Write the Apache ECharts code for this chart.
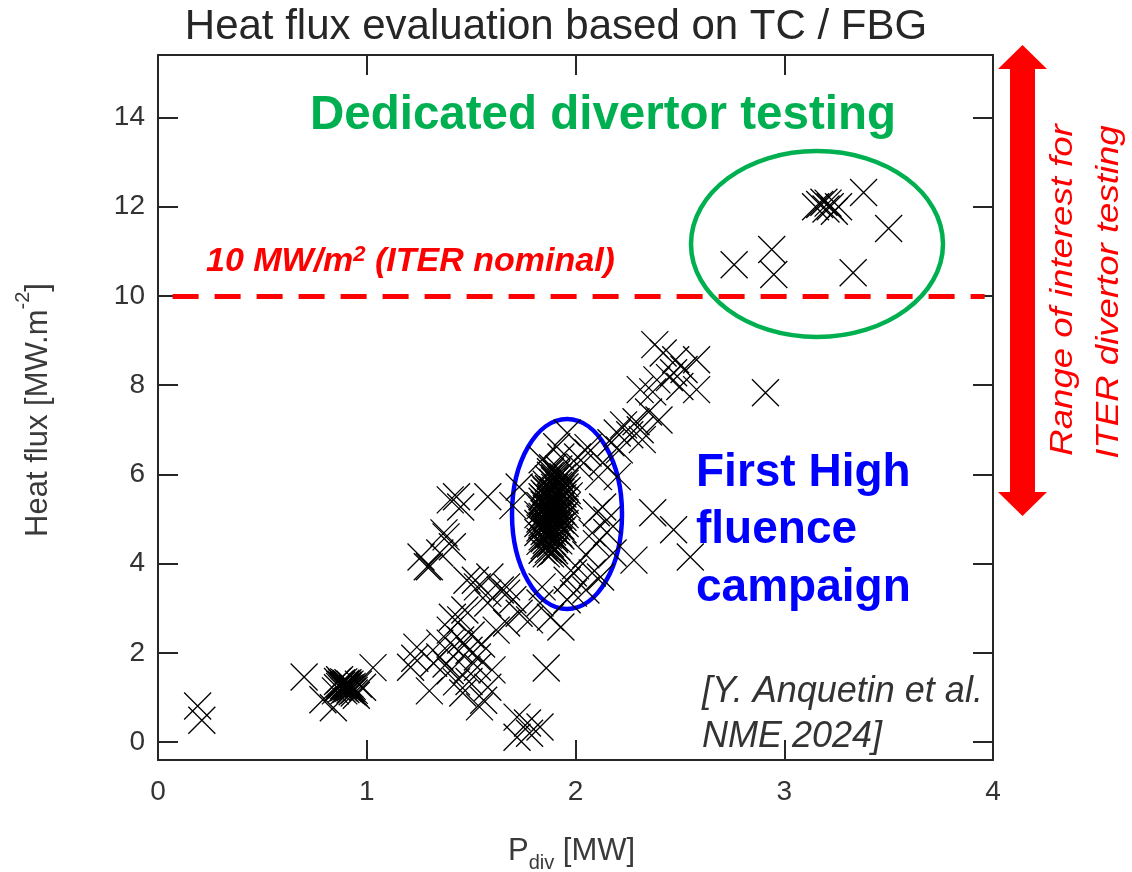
<!DOCTYPE html>
<html>
<head>
<meta charset="utf-8">
<script src="https://cdn.jsdelivr.net/npm/echarts@6/dist/echarts.min.js"></script>
<style>
html,body{margin:0;padding:0;background:#fff;}
#chart{width:1132px;height:872px;}
</style>
</head>
<body>
<div id="chart"></div>
<script>
// ---------- data ----------
const xTickValues = [0, 1, 2, 3, 4];
const yTickValues = [0, 2, 4, 6, 8, 10, 12, 14];

const lowPoints = [[0.19,0.81],[0.21,0.49]];

const clusterNearOne = [[0.70,1.46],[0.79,0.95],[0.84,0.77],[0.86,1.36],[0.87,1.30],[0.88,1.33],
  [0.89,1.27],[0.90,1.24],[0.91,1.20],[0.92,1.17],[0.93,1.13],[0.94,1.10],[0.88,1.20],[0.90,1.32],
  [0.91,1.28],[0.87,1.40],[0.93,1.25],[0.95,1.05],[0.85,1.15],[0.96,1.30],[0.98,1.23],[1.03,1.67],
  [0.89,1.22],[0.90,1.29],[0.91,1.24],[0.92,1.22],[0.89,1.35],[0.88,1.28],[0.92,1.30],[0.93,1.20],
  [0.94,1.16],[0.90,1.18],[0.87,1.25],[0.86,1.22],[0.91,1.33],[0.89,1.15]];

const rampLow = [[1.21,1.68],[1.23,1.88],[1.24,2.13],[1.30,1.15],[1.32,1.77],[1.35,1.91],[1.35,2.22],
  [1.40,2.22],[1.40,2.51],[1.41,2.80],[1.45,2.29],[1.45,2.74],[1.47,2.96],[1.48,1.62],[1.49,1.36],
  [1.49,2.06],[1.53,1.91],[1.53,1.68],[1.54,0.79],[1.56,0.94],[1.58,1.23],[1.60,1.62],[1.58,3.12],
  [1.62,2.51],[1.67,2.67],[1.67,3.34],[1.73,2.89],[1.78,2.74],[1.83,3.12],[1.88,2.80],[1.93,2.58],
  [1.86,1.66],[1.72,0.56],[1.77,0.43],[1.83,0.34],[1.78,0.20],[1.72,0.11],[1.52,3.63],[1.29,3.93],
  [1.40,1.60],[1.44,2.05],[1.38,1.75],[1.50,2.40],[1.55,2.20],[1.43,1.35],[1.46,1.10]];

const rampMid = [[1.26,4.15],[1.30,3.93],[1.35,4.24],[1.38,4.60],[1.41,4.38],[1.37,4.69],[1.40,5.43],
  [1.43,5.50],[1.45,5.27],[1.58,5.50],[1.48,3.63],[1.53,3.48],[1.59,3.70],[1.67,3.48],[1.58,3.34],
  [1.64,3.41],[1.70,3.19],[1.70,5.30],[1.73,5.72],[1.84,3.48],[1.96,3.19],[2.05,3.41],[2.12,3.70],
  [1.99,3.79],[1.96,3.63],[2.08,3.79],[1.99,3.34],[2.28,4.08],[2.18,4.24],[2.08,4.69],[2.00,3.95],
  [2.05,4.20],[2.10,4.45],[2.15,4.70],[2.55,4.15],[2.47,4.76]];

const campaignBlob = [[1.88,5.98],[1.91,6.02],[1.94,5.95],
  [1.86,5.78],[1.89,5.82],[1.92,5.76],[1.95,5.80],
  [1.85,5.58],[1.88,5.62],[1.90,5.55],[1.93,5.60],[1.96,5.64],
  [1.84,5.40],[1.87,5.36],[1.89,5.44],[1.92,5.38],[1.95,5.42],
  [1.84,5.20],[1.86,5.24],[1.88,5.18],[1.91,5.22],[1.94,5.16],
  [1.83,5.00],[1.86,5.04],[1.88,4.97],[1.90,5.02],[1.93,4.98],
  [1.83,4.80],[1.85,4.84],[1.88,4.78],[1.91,4.82],[1.94,4.76],
  [1.84,4.60],[1.87,4.64],[1.90,4.58],[1.93,4.62],
  [1.85,4.40],[1.88,4.44],[1.91,4.38],
  [1.86,4.22],[1.89,4.26],
  [1.89,6.15],[1.92,6.12],
  [1.87,5.90],[1.90,5.92],[1.93,5.88],[1.96,5.90],
  [1.85,5.70],[1.87,5.68],[1.90,5.71],[1.93,5.69],[1.95,5.72],
  [1.84,5.50],[1.86,5.52],[1.88,5.49],[1.91,5.51],[1.94,5.48],[1.97,5.52],
  [1.83,5.30],[1.85,5.32],[1.87,5.29],[1.90,5.31],[1.93,5.28],[1.96,5.30],
  [1.82,5.10],[1.85,5.12],[1.87,5.09],[1.89,5.11],[1.92,5.08],[1.95,5.10],
  [1.82,4.90],[1.84,4.92],[1.87,4.89],[1.89,4.91],[1.92,4.88],[1.95,4.90],
  [1.82,4.70],[1.85,4.72],[1.87,4.69],[1.89,4.71],[1.92,4.68],
  [1.83,4.50],[1.86,4.52],[1.89,4.49],[1.92,4.51],
  [1.84,4.30],[1.87,4.32],[1.90,4.29],
  [1.88,6.06],[1.90,5.86],[1.92,5.95],[1.86,5.64],[1.89,5.66],[1.92,5.63],[1.94,5.56],
  [1.85,5.45],[1.88,5.40],[1.90,5.37],[1.93,5.45],[1.86,5.15],[1.88,5.26],[1.90,5.14],
  [1.93,5.21],[1.84,5.06],[1.86,4.96],[1.89,5.05],[1.91,4.95],[1.94,5.04],[1.84,4.86],
  [1.86,4.76],[1.88,4.86],[1.90,4.75],[1.93,4.84],[1.85,4.56],[1.88,4.66],[1.90,4.54],
  [1.86,4.46],[1.89,4.36],[1.85,4.35],[1.88,4.22]];

const rampHigh = [[1.84,6.33],[1.91,6.62],[1.96,6.93],[2.06,6.48],[2.02,6.17],[1.93,6.39],[2.01,6.39],
  [2.06,6.60],[2.11,5.95],[2.13,6.26],[2.17,6.71],[2.20,5.95],[2.20,6.93],[2.21,6.55],[2.23,7.11],
  [2.26,6.89],[2.29,7.18],[2.31,7.00],[2.32,6.78],[2.35,7.40],[2.40,7.22],[2.10,5.14],[2.13,5.27],
  [2.15,4.98],[2.37,5.14],[2.31,7.90],[2.37,7.85],[2.39,8.12],[2.45,8.17],[2.47,8.28],[2.50,7.97],
  [2.52,8.35],[2.58,7.90],[2.58,8.57],[2.48,8.57],[2.42,8.72],[2.38,8.91],[2.91,7.83]];

const dedicatedPoints = [[2.76,10.70],[2.94,11.04],[2.95,10.48],[3.33,10.52],[3.50,11.51],[3.38,12.32],
  [3.15,12.00],[3.17,12.05],[3.19,12.10],[3.20,11.95],[3.22,12.00],[3.24,11.90],[3.26,12.00],[3.21,12.08]];

const iterNominal = 10;
const nominalLineX = [0.07, 3.96];

// ---------- chart ----------
const allPoints = [].concat(lowPoints, clusterNearOne, rampLow, rampMid, campaignBlob, rampHigh, dedicatedPoints);

const chart = echarts.init(document.getElementById('chart'), null, {renderer: 'canvas'});
const FONT = '"Liberation Sans", Arial, sans-serif';
const frameColor = '#262626';

const commonAxis = {
  axisLine: {show: true, onZero: false, lineStyle: {color: frameColor, width: 2}},
  splitLine: {show: false}
};

const option = {
  animation: false,
  backgroundColor: '#fff',
  grid: {left: 158, right: 139, top: 55, bottom: 112, containLabel: false},
  xAxis: [
    Object.assign({}, commonAxis, {
      type: 'value', position: 'bottom', min: 0, max: 4, interval: 1,
      axisTick: {show: true, inside: true, length: 20, lineStyle: {color: frameColor, width: 2}},
      axisLabel: {show: true, margin: 18, fontSize: 28, color: '#333', fontFamily: FONT}
    }),
    Object.assign({}, commonAxis, {
      type: 'value', position: 'top', min: 0, max: 4, interval: 1,
      axisTick: {show: true, inside: true, length: 20, lineStyle: {color: frameColor, width: 2}},
      axisLabel: {show: false}
    })
  ],
  yAxis: [
    Object.assign({}, commonAxis, {
      type: 'value', position: 'left', min: -0.4, max: 15.4,
      axisTick: {show: true, inside: true, length: 20, customValues: yTickValues,
        lineStyle: {color: frameColor, width: 2}},
      axisLabel: {show: true, margin: 13, fontSize: 28, color: '#333', customValues: yTickValues,
        fontFamily: FONT}
    }),
    Object.assign({}, commonAxis, {
      type: 'value', position: 'right', min: -0.4, max: 15.4,
      axisTick: {show: true, inside: true, length: 20, customValues: yTickValues,
        lineStyle: {color: frameColor, width: 2}},
      axisLabel: {show: false}
    })
  ],
  series: [{
    type: 'scatter',
    xAxisIndex: 0, yAxisIndex: 0,
    data: allPoints,
    symbol: 'path://M0 0L10 10M10 0L0 10',
    symbolSize: 27,
    itemStyle: {color: 'rgba(0,0,0,0)', borderColor: '#000', borderWidth: 1.3, opacity: 1},
    emphasis: {disabled: true},
    silent: true,
    markLine: {
      silent: true, symbol: 'none', animation: false,
      label: {show: false},
      lineStyle: {color: '#ff0000', width: 5, type: [26, 16]},
      data: [[{coord: [nominalLineX[0], iterNominal]}, {coord: [nominalLineX[1], iterNominal]}]]
    }
  }],
  graphic: [
    // title
    {type: 'text', x: 556, y: 27, style: {text: 'Heat flux evaluation based on TC / FBG',
      font: '42px ' + FONT, fill: '#262626', textAlign: 'center', textVerticalAlign: 'middle'}},
    // y axis name
    {type: 'text', x: 38, y: 410, rotation: Math.PI / 2,
      style: {text: '{a|Heat flux [MW.m}{s|-2}{a|]}', textAlign: 'center', textVerticalAlign: 'middle',
        rich: {
          a: {fontSize: 31, fontFamily: FONT, fill: '#3a3a3a', lineHeight: 50, verticalAlign: 'middle'},
          s: {fontSize: 20, fontFamily: FONT, fill: '#3a3a3a', lineHeight: 20, verticalAlign: 'top'}
        }}},
    // x axis name
    {type: 'text', x: 508, y: 851,
      style: {text: '{a|P}{s|div}{a| [MW]}', textAlign: 'left', textVerticalAlign: 'middle',
        rich: {
          a: {fontSize: 31, fontFamily: FONT, fill: '#3a3a3a', lineHeight: 44, verticalAlign: 'middle'},
          s: {fontSize: 20, fontFamily: FONT, fill: '#3a3a3a', lineHeight: 20, verticalAlign: 'bottom'}
        }}},
    // green annotation
    {type: 'text', x: 310, y: 116, style: {text: 'Dedicated divertor testing',
      font: 'bold 47.5px ' + FONT, fill: '#00b050', textAlign: 'left', textVerticalAlign: 'middle'}},
    {type: 'ellipse', shape: {cx: 817, cy: 244, rx: 126, ry: 93},
      style: {fill: 'none', stroke: '#00b050', lineWidth: 4.5}},
    // red nominal label
    {type: 'text', x: 206, y: 262,
      style: {text: '{a|10 MW/m}{s|2}{a| (ITER nominal)}', textAlign: 'left', textVerticalAlign: 'middle',
        rich: {
          a: {fontSize: 34, fontFamily: FONT, fontWeight: 'bold', fontStyle: 'italic', fill: '#ff0000', lineHeight: 36, verticalAlign: 'middle'},
          s: {fontSize: 22, fontFamily: FONT, fontWeight: 'bold', fontStyle: 'italic', fill: '#ff0000', lineHeight: 22, verticalAlign: 'top'}
        }}},
    // blue annotation
    {type: 'ellipse', shape: {cx: 567, cy: 514, rx: 55, ry: 95},
      style: {fill: 'none', stroke: '#0000ff', lineWidth: 4.5}},
    {type: 'text', x: 696, y: 473, style: {text: 'First High', font: 'bold 46px ' + FONT, fill: '#0000ff',
      textAlign: 'left', textVerticalAlign: 'middle'}},
    {type: 'text', x: 696, y: 530, style: {text: 'fluence', font: 'bold 46px ' + FONT, fill: '#0000ff',
      textAlign: 'left', textVerticalAlign: 'middle'}},
    {type: 'text', x: 696, y: 588, style: {text: 'campaign', font: 'bold 46px ' + FONT, fill: '#0000ff',
      textAlign: 'left', textVerticalAlign: 'middle'}},
    // citation
    {type: 'text', x: 702, y: 692, style: {text: '[Y. Anquetin et al.', font: 'italic 36px ' + FONT,
      fill: '#333', textAlign: 'left', textVerticalAlign: 'middle'}},
    {type: 'text', x: 702, y: 737, style: {text: 'NME 2024]', font: 'italic 36px ' + FONT,
      fill: '#333', textAlign: 'left', textVerticalAlign: 'middle'}},
    // red double arrow
    {type: 'polygon', shape: {points: [[1022.5,45],[998,69],[1010,69],[1010,492],[998,492],[1022.5,516],
      [1047,492],[1035,492],[1035,69],[1047,69]]}, style: {fill: '#ff0000'}},
    {type: 'text', x: 1063, y: 290, rotation: Math.PI / 2, scaleX: 1.18,
      style: {text: 'Range of interest for', font: 'italic 31px ' + FONT, fill: '#ff0000',
        textAlign: 'center', textVerticalAlign: 'middle'}},
    {type: 'text', x: 1109, y: 292, rotation: Math.PI / 2, scaleX: 1.18,
      style: {text: 'ITER divertor testing', font: 'italic 31px ' + FONT, fill: '#ff0000',
        textAlign: 'center', textVerticalAlign: 'middle'}}
  ]
};
chart.setOption(option);
</script>
</body>
</html>
